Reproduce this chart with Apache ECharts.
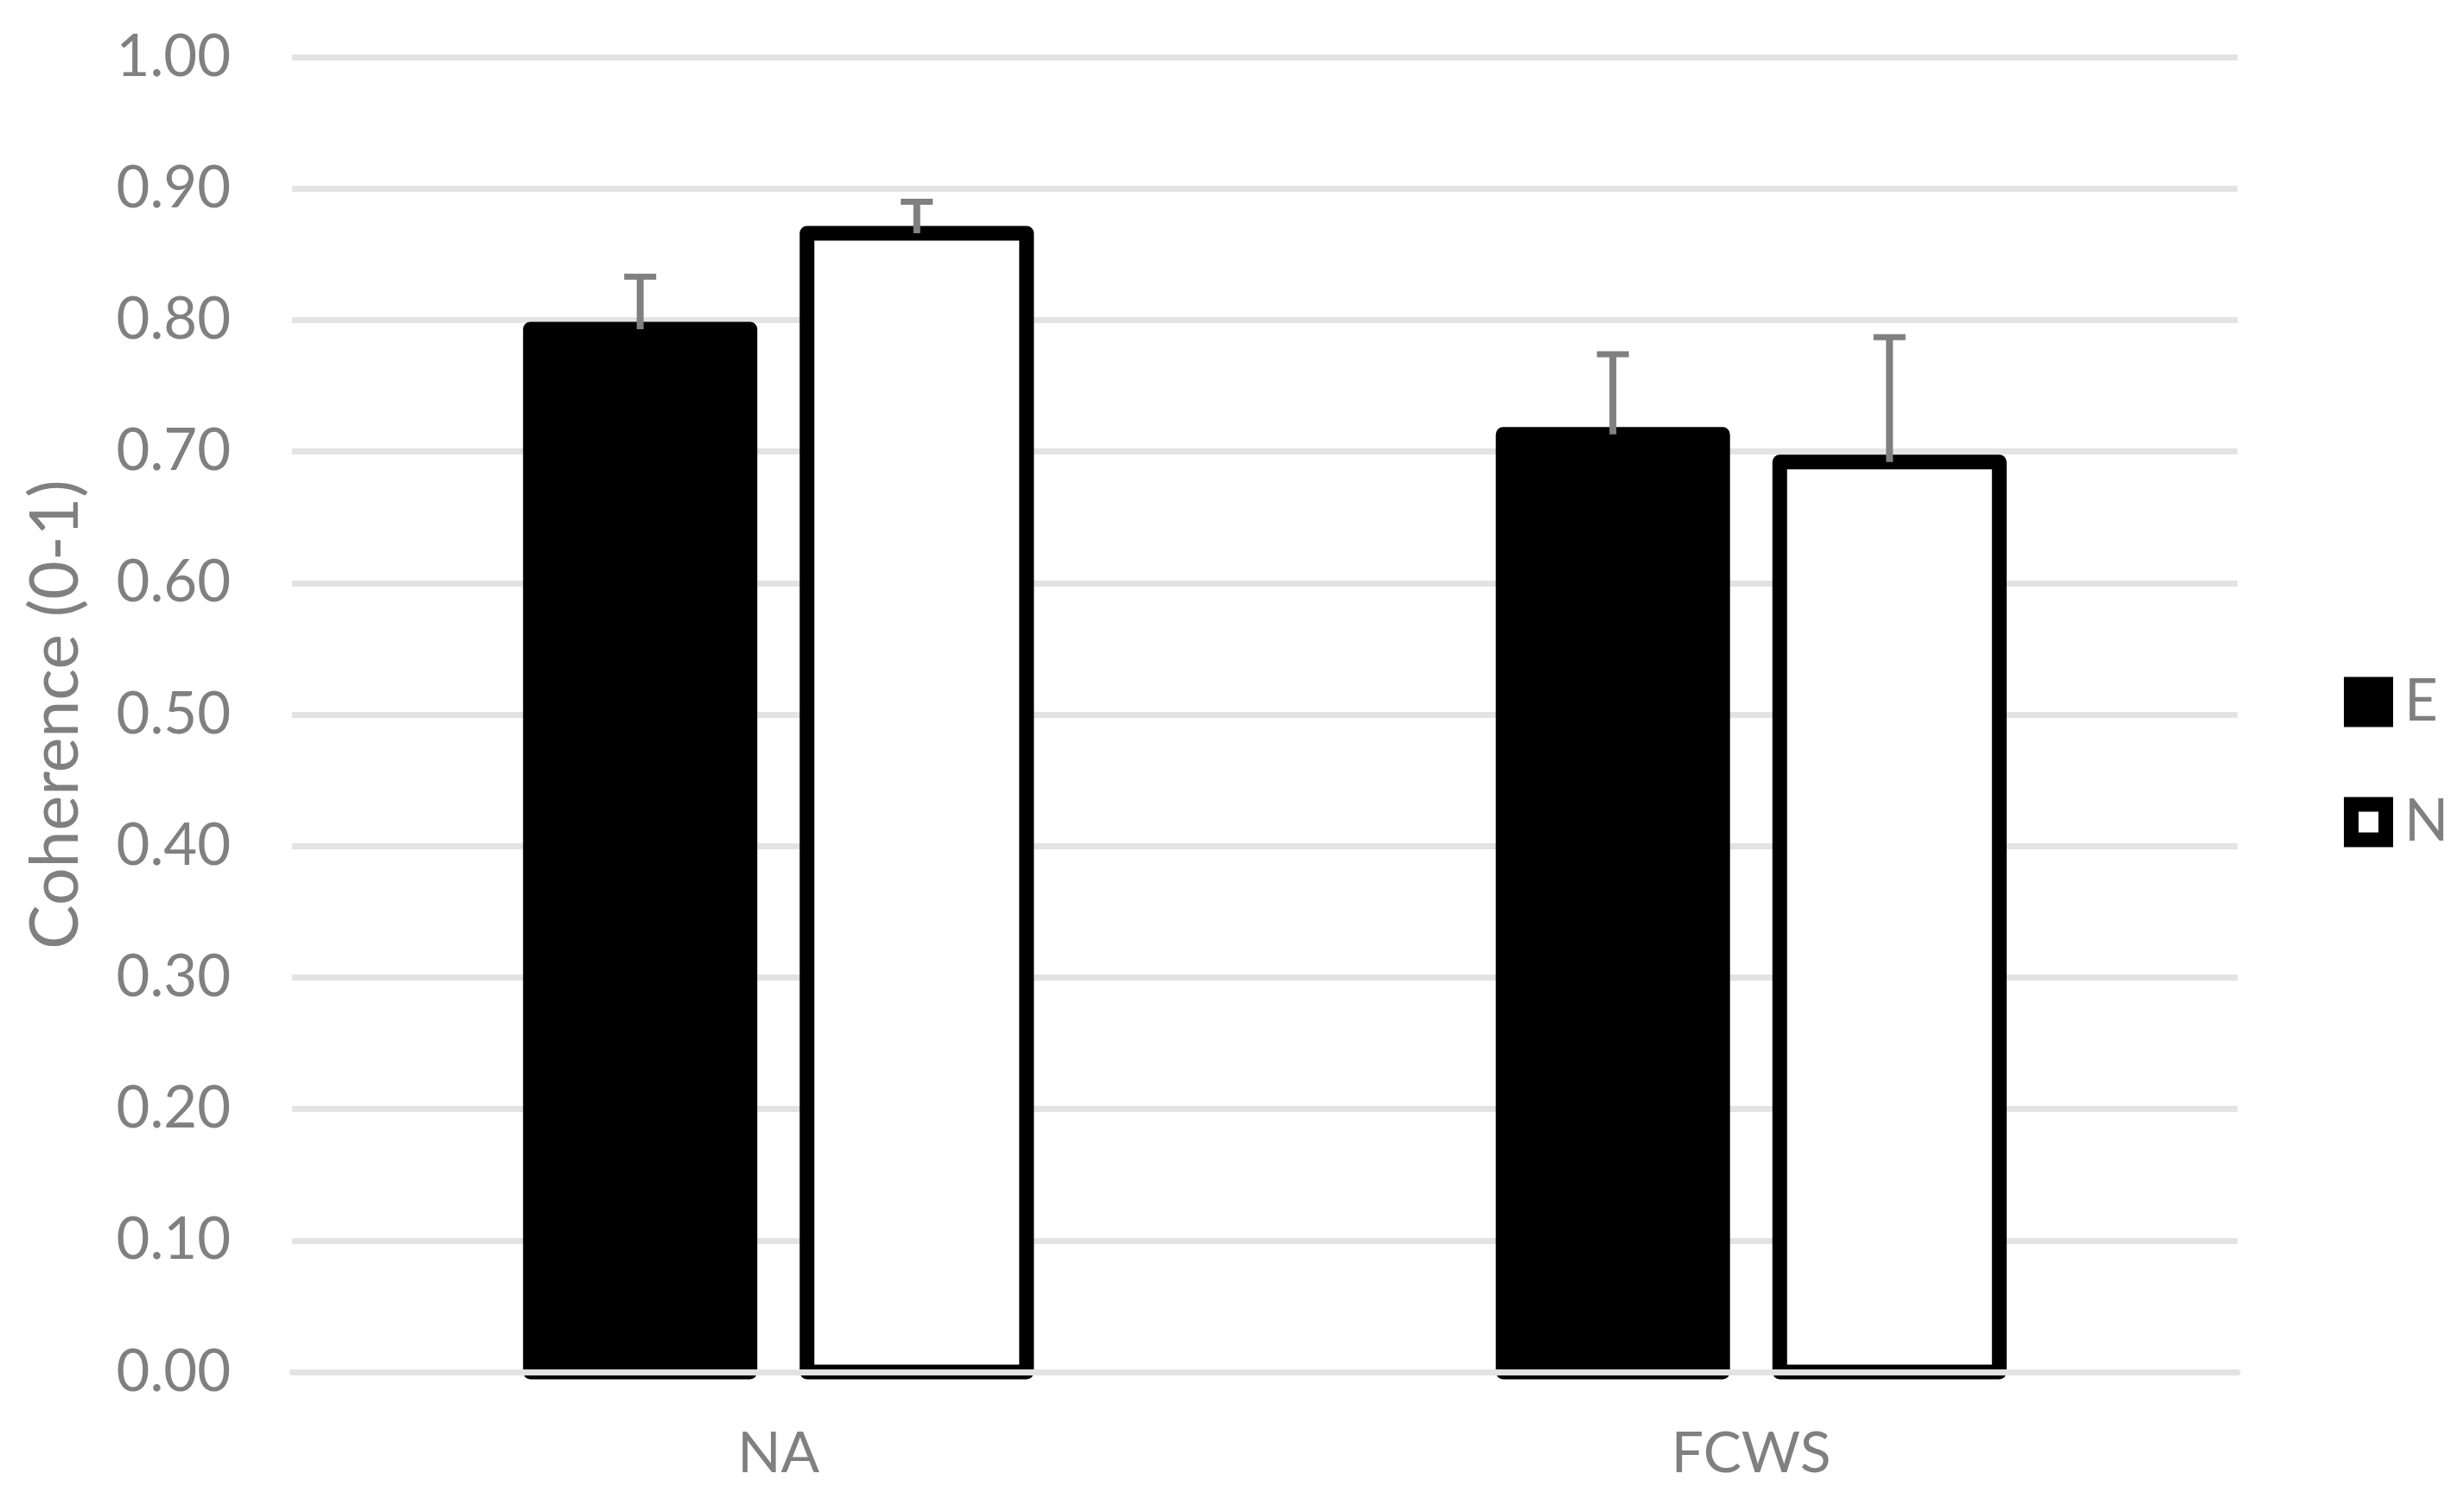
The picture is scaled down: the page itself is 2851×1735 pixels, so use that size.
<!DOCTYPE html>
<html>
<head>
<meta charset="utf-8">
<script src="https://cdn.jsdelivr.net/npm/echarts@6/dist/echarts.min.js"></script>
<style>
html,body{margin:0;padding:0;background:#fff;}
#main{width:2851px;height:1735px;}
</style>
</head>
<body>
<div id="main"></div>
<script>
// ---- data ----
const categories = ['NA', 'FCWS'];
const seriesNames = ['E', 'N'];
const valuesE = [0.793, 0.713];
const errorsE = [0.040, 0.061];
const valuesN = [0.866, 0.692];
const errorsN = [0.024, 0.095];
const yTicks = [0, 0.1, 0.2, 0.3, 0.4, 0.5, 0.6, 0.7, 0.8, 0.9, 1.0];

// ---- layout/style ----
const FONT = 'Lato';
const GREY = '#808080';
const GRID = '#e3e3e3';
const BAR_FRAC = 0.2257;   // bar width as fraction of category band
const GAP_FRAC = 0.26;     // gap between bars as fraction of bar width
const BORDER = 17;

const chart = echarts.init(document.getElementById('main'), null, {renderer: 'canvas'});

function barItem(side, fill) {
  return function (params, api) {
    const band = api.size([1, 0])[0];
    const bw = band * BAR_FRAC;
    const off = side * (bw + bw * GAP_FRAC) / 2;
    const p = api.coord([api.value(0), api.value(1)]);
    const b = api.coord([api.value(0), 0]);
    return {
      type: 'rect',
      shape: {x: p[0] + off - bw / 2, y: p[1], width: bw, height: b[1] - p[1]},
      style: {fill: fill, stroke: '#000', lineWidth: BORDER, lineJoin: 'round'}
    };
  };
}

function errItem(side) {
  return function (params, api) {
    const band = api.size([1, 0])[0];
    const bw = band * BAR_FRAC;
    const off = side * (bw + bw * GAP_FRAC) / 2;
    const base = api.coord([api.value(0), api.value(1)]);
    const top = api.coord([api.value(0), api.value(1) + api.value(2)]);
    const x = base[0] + off;
    return {
      type: 'group',
      children: [
        {type: 'line', shape: {x1: x, y1: base[1], x2: x, y2: top[1]}, style: {stroke: GREY, lineWidth: 8}},
        {type: 'line', shape: {x1: x - 18.5, y1: top[1], x2: x + 18.5, y2: top[1]}, style: {stroke: GREY, lineWidth: 7}}
      ]
    };
  };
}

const option = {
  backgroundColor: '#ffffff',
  animation: false,
  textStyle: {fontFamily: FONT},
  grid: {left: 338, right: 262, top: 66, bottom: 147, containLabel: false},
  legend: {
    orient: 'vertical',
    left: 2712,
    top: 779,
    padding: 0,
    itemWidth: 57,
    itemHeight: 58,
    itemGap: 72,
    data: [
      {name: 'E', icon: 'path://M0,0H57V58H0Z', itemStyle: {color: '#000', borderWidth: 0}},
      {name: 'N', icon: 'path://M0,0H57V58H0Z M17,17V41H40V17Z', itemStyle: {color: '#000', borderWidth: 0}}
    ],
    textStyle: {color: GREY, fontSize: 67, fontFamily: FONT, lineHeight: 58, padding: [0, 0, 0, 8]}
  },
  xAxis: {
    type: 'category',
    data: categories,
    z: 5,
    axisLine: {show: true, lineStyle: {color: GRID, width: 7}},
    axisTick: {show: false},
    axisLabel: {color: GREY, fontSize: 66, fontFamily: FONT, margin: 62}
  },
  yAxis: {
    type: 'value',
    min: 0,
    max: 1,
    interval: 0.1,
    name: 'Coherence (0-1)',
    nameLocation: 'middle',
    nameGap: 234,
    nameTextStyle: {color: GREY, fontSize: 77, fontFamily: FONT},
    axisLine: {show: false},
    axisTick: {show: false},
    splitLine: {lineStyle: {color: GRID, width: 7}},
    axisLabel: {
      color: GREY, fontSize: 67, fontFamily: FONT, margin: 71,
      formatter: function (v) { return yTicks.some(t => Math.abs(t - v) < 1e-9) ? v.toFixed(2) : ''; }
    }
  },
  series: [
    {
      type: 'custom', name: seriesNames[0], renderItem: barItem(-1, '#000'), z: 2,
      itemStyle: {color: '#000'},
      data: valuesE.map((v, i) => [i, v]),
      encode: {x: 0, y: 1}
    },
    {
      type: 'custom', name: seriesNames[1], renderItem: barItem(1, '#fff'), z: 2,
      itemStyle: {color: '#fff'},
      data: valuesN.map((v, i) => [i, v]),
      encode: {x: 0, y: 1}
    },
    {
      type: 'custom', name: 'errE', renderItem: errItem(-1), z: 4,
      data: valuesE.map((v, i) => [i, v, errorsE[i]]),
      encode: {x: 0, y: 1}
    },
    {
      type: 'custom', name: 'errN', renderItem: errItem(1), z: 4,
      data: valuesN.map((v, i) => [i, v, errorsN[i]]),
      encode: {x: 0, y: 1}
    }
  ]
};
chart.setOption(option);
</script>
</body>
</html>
